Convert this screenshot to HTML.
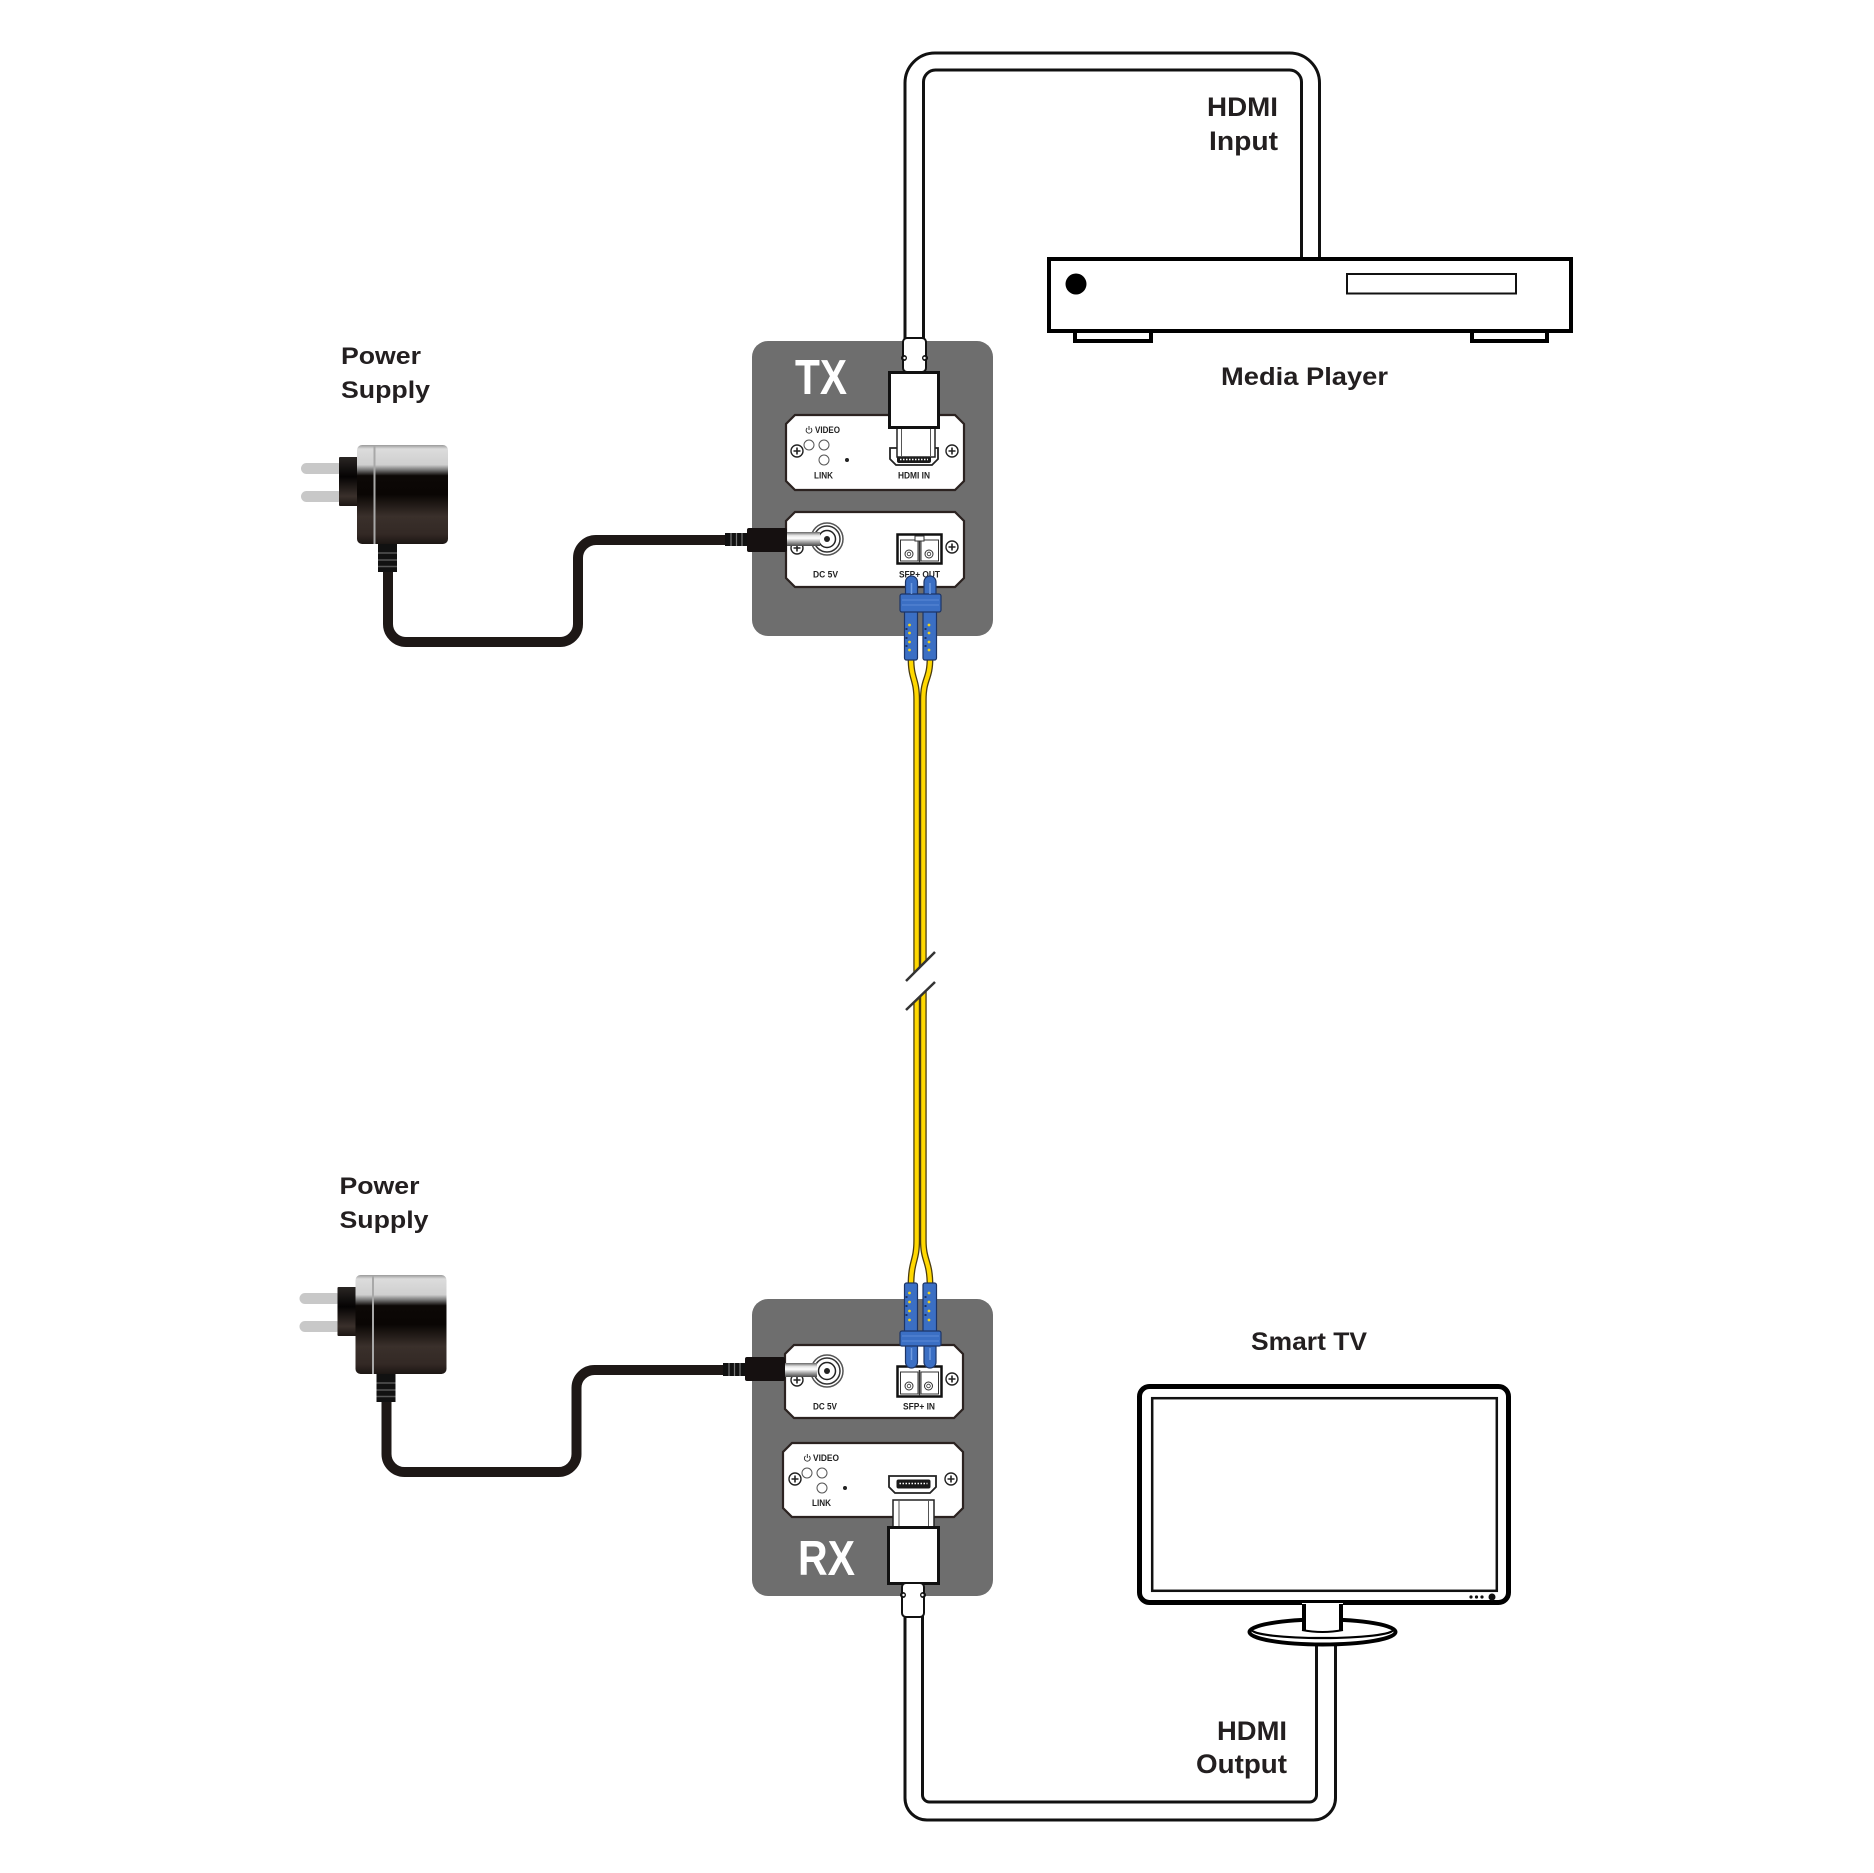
<!DOCTYPE html>
<html><head><meta charset="utf-8">
<style>html,body{margin:0;padding:0;background:#fff}svg{display:block}</style>
</head><body>
<svg width="1874" height="1873" viewBox="0 0 1874 1873" xmlns="http://www.w3.org/2000/svg" font-family="'Liberation Sans', Arial, sans-serif">
<defs>
 <linearGradient id="adapt" x1="0" y1="0" x2="0" y2="1">
  <stop offset="0" stop-color="#9a9a9a"/>
  <stop offset="0.04" stop-color="#dcdcdc"/>
  <stop offset="0.2" stop-color="#cfcfcf"/>
  <stop offset="0.25" stop-color="#7a7a7a"/>
  <stop offset="0.31" stop-color="#0c0806"/>
  <stop offset="0.5" stop-color="#0a0604"/>
  <stop offset="0.72" stop-color="#3a302b"/>
  <stop offset="0.9" stop-color="#332925"/>
  <stop offset="1" stop-color="#1c1613"/>
 </linearGradient>
 <linearGradient id="blk" x1="0" y1="0" x2="0" y2="1">
  <stop offset="0" stop-color="#2a2624"/>
  <stop offset="0.4" stop-color="#050303"/>
  <stop offset="0.8" stop-color="#3a302b"/>
  <stop offset="1" stop-color="#1c1613"/>
 </linearGradient>
 <linearGradient id="barrel" x1="0" y1="0" x2="0" y2="1">
  <stop offset="0" stop-color="#666"/>
  <stop offset="0.25" stop-color="#e6e6e6"/>
  <stop offset="0.45" stop-color="#ffffff"/>
  <stop offset="0.7" stop-color="#a8a8a8"/>
  <stop offset="1" stop-color="#474747"/>
 </linearGradient>
</defs>

<!-- ============ POWER SUPPLY 1 ============ -->
<g>
 <text x="341" y="364" font-size="24" font-weight="bold" fill="#231f20" textLength="80" lengthAdjust="spacingAndGlyphs">Power</text>
 <text x="341" y="398" font-size="24" font-weight="bold" fill="#231f20" textLength="89" lengthAdjust="spacingAndGlyphs">Supply</text>
 <rect x="301" y="463" width="42" height="11" rx="5.5" fill="#c8c8c8"/>
 <rect x="301" y="491" width="42" height="11" rx="5.5" fill="#c8c8c8"/>
 <rect x="339" y="457" width="20" height="49" rx="1" fill="url(#blk)"/>
 <rect x="357" y="445" width="91" height="99" rx="5" fill="url(#adapt)"/>
 <line x1="374.5" y1="446" x2="374.5" y2="544" stroke="#a8a8a8" stroke-width="2"/>
 <path d="M388 572 V624 A18 18 0 0 0 406 642 H560 A18 18 0 0 0 578 624 V558 A18 18 0 0 1 596 540 H727" fill="none" stroke="#1e1816" stroke-width="10"/>
 <rect x="378" y="544" width="19" height="28" fill="#111"/>
 <line x1="378" y1="553" x2="397" y2="553" stroke="#555" stroke-width="1.5"/>
 <line x1="378" y1="560" x2="397" y2="560" stroke="#555" stroke-width="1.5"/>
 <line x1="378" y1="566.5" x2="397" y2="566.5" stroke="#555" stroke-width="1.5"/>
</g>

<!-- ============ POWER SUPPLY 2 ============ -->
<g transform="translate(-1.5,830)">
 <text x="341" y="364" font-size="24" font-weight="bold" fill="#231f20" textLength="80" lengthAdjust="spacingAndGlyphs">Power</text>
 <text x="341" y="398" font-size="24" font-weight="bold" fill="#231f20" textLength="89" lengthAdjust="spacingAndGlyphs">Supply</text>
 <rect x="301" y="463" width="42" height="11" rx="5.5" fill="#c8c8c8"/>
 <rect x="301" y="491" width="42" height="11" rx="5.5" fill="#c8c8c8"/>
 <rect x="339" y="457" width="20" height="49" rx="1" fill="url(#blk)"/>
 <rect x="357" y="445" width="91" height="99" rx="5" fill="url(#adapt)"/>
 <line x1="374.5" y1="446" x2="374.5" y2="544" stroke="#a8a8a8" stroke-width="2"/>
 <path d="M388 572 V624 A18 18 0 0 0 406 642 H560 A18 18 0 0 0 578 624 V558 A18 18 0 0 1 596 540 H727" fill="none" stroke="#1e1816" stroke-width="10"/>
 <rect x="378" y="544" width="19" height="28" fill="#111"/>
 <line x1="378" y1="553" x2="397" y2="553" stroke="#555" stroke-width="1.5"/>
 <line x1="378" y1="560" x2="397" y2="560" stroke="#555" stroke-width="1.5"/>
 <line x1="378" y1="566.5" x2="397" y2="566.5" stroke="#555" stroke-width="1.5"/>
</g>

<!-- ============ TOP HDMI CABLE ============ -->
<path d="M905 340 V83 A30 30 0 0 1 935 53 H1289.5 A30 30 0 0 1 1319.5 83 V260" fill="none" stroke="#111" stroke-width="3"/>
<path d="M923.5 340 V82 A12 12 0 0 1 935.5 70 H1289.5 A12 12 0 0 1 1301.5 82 V260" fill="none" stroke="#111" stroke-width="3"/>
<text x="1207" y="116" font-size="26.5" font-weight="bold" fill="#231f20" textLength="71" lengthAdjust="spacingAndGlyphs">HDMI</text>
<text x="1209" y="150" font-size="26.5" font-weight="bold" fill="#231f20" textLength="69" lengthAdjust="spacingAndGlyphs">Input</text>

<!-- ============ MEDIA PLAYER ============ -->
<rect x="1075" y="329" width="76" height="12" fill="#fff" stroke="#000" stroke-width="4"/>
<rect x="1472" y="329" width="75" height="12" fill="#fff" stroke="#000" stroke-width="4"/>
<rect x="1049" y="259" width="522" height="72" fill="#fff" stroke="#000" stroke-width="4"/>
<circle cx="1076" cy="284" r="10.5" fill="#000"/>
<rect x="1347" y="274" width="169" height="19.5" fill="#fff" stroke="#111" stroke-width="2"/>
<text x="1221" y="385" font-size="25" font-weight="bold" fill="#231f20" textLength="167" lengthAdjust="spacingAndGlyphs">Media Player</text>

<!-- ============ TX BOX ============ -->
<rect x="752" y="341" width="241" height="295" rx="16" fill="#6e6e6e"/>
<text x="795" y="394" font-size="49" font-weight="bold" fill="#fff" textLength="52" lengthAdjust="spacingAndGlyphs">TX</text>

<!-- upper panel -->
<path d="M795 415 H955 L964 424 V481 L955 490 H795 L786 481 V424 Z" fill="#fff" stroke="#2b2220" stroke-width="2.2"/>
<path d="M807.2 428 A2.9 2.9 0 1 0 810.8 428 M809 426 V430" fill="none" stroke="#222" stroke-width="0.9"/>
<text x="815" y="433" font-size="9" font-weight="bold" fill="#222" textLength="25" lengthAdjust="spacingAndGlyphs">VIDEO</text>
<circle cx="809" cy="445" r="5" fill="#fff" stroke="#555" stroke-width="1"/>
<circle cx="824" cy="445" r="5" fill="#fff" stroke="#555" stroke-width="1"/>
<circle cx="824" cy="460" r="5" fill="#fff" stroke="#555" stroke-width="1"/>
<circle cx="847" cy="460" r="2" fill="#222"/>
<text x="814" y="478.3" font-size="9" font-weight="bold" fill="#222" textLength="19" lengthAdjust="spacingAndGlyphs">LINK</text>
<text x="898" y="478.3" font-size="9" font-weight="bold" fill="#222" textLength="32" lengthAdjust="spacingAndGlyphs">HDMI IN</text>
<g fill="#fff" stroke="#222" stroke-width="1.4">
 <circle cx="797" cy="451" r="6"/><circle cx="952" cy="451" r="6"/>
</g>
<path d="M793.5 451 H800.5 M797 447.5 V454.5 M948.5 451 H955.5 M952 447.5 V454.5" stroke="#222" stroke-width="1.6"/>

<!-- lower panel -->
<path d="M795 512 H955 L964 521 V578 L955 587 H795 L786 578 V521 Z" fill="#fff" stroke="#2b2220" stroke-width="2.2"/>
<g fill="#fff" stroke="#222" stroke-width="1.4">
 <circle cx="797" cy="548" r="6"/><circle cx="952" cy="547" r="6"/>
</g>
<path d="M793.5 548 H800.5 M797 544.5 V551.5 M948.5 547 H955.5 M952 543.5 V550.5" stroke="#222" stroke-width="1.6"/>
<text x="813" y="577.3" font-size="9" font-weight="bold" fill="#222" textLength="25" lengthAdjust="spacingAndGlyphs">DC 5V</text>
<text x="899" y="577.3" font-size="9" font-weight="bold" fill="#222" textLength="41" lengthAdjust="spacingAndGlyphs">SFP+ OUT</text>
<!-- DC jack -->
<circle cx="827" cy="539" r="16" fill="#fff" stroke="#555" stroke-width="1.5"/>
<circle cx="827" cy="539" r="13" fill="#fff" stroke="#333" stroke-width="1.5"/>
<circle cx="827" cy="539" r="8.5" fill="#fff" stroke="#222" stroke-width="1.5"/>
<circle cx="827" cy="539" r="3" fill="#222"/>
<!-- DC plug -->
<rect x="725" y="533" width="22" height="13" fill="#111"/>
<path d="M731 533 V546 M736.5 533 V546 M742 533 V546" stroke="#777" stroke-width="1.2"/>
<rect x="747" y="528" width="40" height="24" rx="2" fill="#151010"/>
<rect x="787" y="532" width="33" height="14" fill="url(#barrel)"/>
<!-- SFP port -->
<rect x="897.5" y="534.5" width="44" height="29" fill="#fff" stroke="#111" stroke-width="2.5"/>
<rect x="900.5" y="540" width="17.5" height="21" fill="#fff" stroke="#333" stroke-width="1"/>
<rect x="921" y="540" width="17.5" height="21" fill="#fff" stroke="#333" stroke-width="1"/>
<rect x="915" y="536" width="9" height="5" fill="#fff" stroke="#333" stroke-width="1"/>
<line x1="919.5" y1="541" x2="919.5" y2="563" stroke="#333" stroke-width="1.5"/>
<circle cx="909" cy="554" r="4" fill="#fff" stroke="#333" stroke-width="1"/>
<circle cx="909" cy="554" r="1.8" fill="#fff" stroke="#333" stroke-width="0.8"/>
<circle cx="929" cy="554" r="4" fill="#fff" stroke="#333" stroke-width="1"/>
<circle cx="929" cy="554" r="1.8" fill="#fff" stroke="#333" stroke-width="0.8"/>

<!-- TX HDMI port + plug -->
<path d="M890 448 H938 V459 L932 465 H896 L890 459 Z" fill="#fff" stroke="#222" stroke-width="1.8"/>
<rect x="897" y="455" width="34" height="8" rx="2" fill="#1a1a1a"/>
<line x1="900" y1="459.5" x2="928" y2="459.5" stroke="#fff" stroke-width="1.5" stroke-dasharray="1.5 1.5"/>
<rect x="897" y="428" width="38" height="29" fill="#fff" stroke="#222" stroke-width="1.5"/>
<path d="M901.5 428 V457 M930.5 428 V457" stroke="#555" stroke-width="1"/>
<rect x="889.5" y="372.5" width="49" height="55" fill="#fff" stroke="#111" stroke-width="3"/>
<rect x="903" y="338" width="23" height="34" rx="4" fill="#fff" stroke="#111" stroke-width="2"/>
<circle cx="904" cy="358" r="3" fill="#111"/><circle cx="925" cy="358" r="3" fill="#111"/>
<circle cx="904.5" cy="358" r="1.2" fill="#fff"/><circle cx="924.5" cy="358" r="1.2" fill="#fff"/>

<!-- ============ RX BOX ============ -->
<rect x="752" y="1299" width="241" height="297" rx="16" fill="#6e6e6e"/>
<text x="798" y="1575" font-size="49" font-weight="bold" fill="#fff" textLength="57" lengthAdjust="spacingAndGlyphs">RX</text>

<!-- DC panel -->
<path d="M794 1345 H954 L963 1354 V1409 L954 1418 H794 L785 1409 V1354 Z" fill="#fff" stroke="#2b2220" stroke-width="2.2"/>
<g fill="#fff" stroke="#222" stroke-width="1.4">
 <circle cx="797" cy="1380" r="6"/><circle cx="952" cy="1379" r="6"/>
</g>
<path d="M793.5 1380 H800.5 M797 1376.5 V1383.5 M948.5 1379 H955.5 M952 1375.5 V1382.5" stroke="#222" stroke-width="1.6"/>
<text x="813" y="1409.3" font-size="9" font-weight="bold" fill="#222" textLength="24" lengthAdjust="spacingAndGlyphs">DC 5V</text>
<text x="903" y="1409.3" font-size="9" font-weight="bold" fill="#222" textLength="32" lengthAdjust="spacingAndGlyphs">SFP+ IN</text>
<circle cx="827" cy="1371" r="16" fill="#fff" stroke="#555" stroke-width="1.5"/>
<circle cx="827" cy="1371" r="13" fill="#fff" stroke="#333" stroke-width="1.5"/>
<circle cx="827" cy="1371" r="8.5" fill="#fff" stroke="#222" stroke-width="1.5"/>
<circle cx="827" cy="1371" r="3" fill="#222"/>
<rect x="723" y="1363" width="22" height="13" fill="#111"/>
<path d="M729 1363 V1376 M734.5 1363 V1376 M740 1363 V1376" stroke="#777" stroke-width="1.2"/>
<rect x="745" y="1357" width="40" height="24" rx="2" fill="#151010"/>
<rect x="785" y="1363" width="32" height="14" fill="url(#barrel)"/>
<!-- RX SFP port -->
<rect x="897.5" y="1366.5" width="44" height="30" fill="#fff" stroke="#111" stroke-width="2.5"/>
<rect x="900.5" y="1372" width="17.5" height="22" fill="#fff" stroke="#333" stroke-width="1"/>
<rect x="921" y="1372" width="17.5" height="22" fill="#fff" stroke="#333" stroke-width="1"/>
<line x1="919.5" y1="1370" x2="919.5" y2="1396" stroke="#333" stroke-width="1.5"/>
<circle cx="909" cy="1386" r="4" fill="#fff" stroke="#333" stroke-width="1"/>
<circle cx="909" cy="1386" r="1.8" fill="#fff" stroke="#333" stroke-width="0.8"/>
<circle cx="928.5" cy="1386" r="4" fill="#fff" stroke="#333" stroke-width="1"/>
<circle cx="928.5" cy="1386" r="1.8" fill="#fff" stroke="#333" stroke-width="0.8"/>

<!-- HDMI panel -->
<path d="M792 1443 H954 L963 1452 V1508 L954 1517 H792 L783 1508 V1452 Z" fill="#fff" stroke="#2b2220" stroke-width="2.2"/>
<path d="M805.5 1456 A2.9 2.9 0 1 0 809.1 1456 M807.3 1454 V1458" fill="none" stroke="#222" stroke-width="0.9"/>
<text x="813" y="1461" font-size="9" font-weight="bold" fill="#222" textLength="26" lengthAdjust="spacingAndGlyphs">VIDEO</text>
<circle cx="807" cy="1473" r="5" fill="#fff" stroke="#555" stroke-width="1"/>
<circle cx="822" cy="1473" r="5" fill="#fff" stroke="#555" stroke-width="1"/>
<circle cx="822" cy="1488" r="5" fill="#fff" stroke="#555" stroke-width="1"/>
<circle cx="845" cy="1488" r="2" fill="#222"/>
<text x="812" y="1506" font-size="9" font-weight="bold" fill="#222" textLength="19" lengthAdjust="spacingAndGlyphs">LINK</text>
<g fill="#fff" stroke="#222" stroke-width="1.4">
 <circle cx="795" cy="1479" r="6"/><circle cx="951" cy="1479" r="6"/>
</g>
<path d="M791.5 1479 H798.5 M795 1475.5 V1482.5 M947.5 1479 H954.5 M951 1475.5 V1482.5" stroke="#222" stroke-width="1.6"/>
<path d="M889 1476 H936 V1487 L930 1493 H895 L889 1487 Z" fill="#fff" stroke="#222" stroke-width="1.8"/>
<rect x="896.5" y="1479.5" width="34" height="9" rx="2" fill="#1a1a1a"/>
<line x1="899.5" y1="1483.5" x2="927.5" y2="1483.5" stroke="#fff" stroke-width="1.5" stroke-dasharray="1.5 1.5"/>

<!-- bottom HDMI cable -->
<path d="M905 1615 V1798 A22 22 0 0 0 927 1820 H1313.5 A22 22 0 0 0 1335.5 1798 V1640" fill="none" stroke="#111" stroke-width="3"/>
<path d="M922.5 1615 V1795 A7 7 0 0 0 929.5 1802 H1309.5 A7 7 0 0 0 1316.5 1795 V1640" fill="none" stroke="#111" stroke-width="3"/>
<!-- RX HDMI plug -->
<rect x="893" y="1500" width="41" height="27" fill="#fff" stroke="#222" stroke-width="1.5"/>
<path d="M899 1500 V1527 M928.5 1500 V1527" stroke="#555" stroke-width="1"/>
<rect x="888.5" y="1527.5" width="50" height="56" fill="#fff" stroke="#111" stroke-width="3"/>
<rect x="902" y="1583" width="22" height="34" rx="4" fill="#fff" stroke="#111" stroke-width="2"/>
<circle cx="903" cy="1595" r="3" fill="#111"/><circle cx="923" cy="1595" r="3" fill="#111"/>
<circle cx="903.5" cy="1595" r="1.2" fill="#fff"/><circle cx="922.5" cy="1595" r="1.2" fill="#fff"/>
<text x="1217" y="1740" font-size="26.5" font-weight="bold" fill="#231f20" textLength="70" lengthAdjust="spacingAndGlyphs">HDMI</text>
<text x="1196" y="1773" font-size="26.5" font-weight="bold" fill="#231f20" textLength="91" lengthAdjust="spacingAndGlyphs">Output</text>

<!-- ============ FIBER ============ -->
<g fill="none" stroke-linecap="butt">
 <path d="M911 658 C911 680 916.7 678 916.7 700 V1240 C916.7 1262 911 1260 911 1286" stroke="#4a3c10" stroke-width="6.8"/>
 <path d="M911 658 C911 680 916.7 678 916.7 700 V1240 C916.7 1262 911 1260 911 1286" stroke="#ffd800" stroke-width="4.2"/>
 <path d="M930 658 C930 680 923.3 678 923.3 700 V1240 C923.3 1262 930 1260 930 1286" stroke="#4a3c10" stroke-width="6.8"/>
 <path d="M930 658 C930 680 923.3 678 923.3 700 V1240 C923.3 1262 930 1260 930 1286" stroke="#ffd800" stroke-width="4.2"/>
</g>
<!-- break -->
<polygon points="904,983 937,951 937,981 904,1013" fill="#fff"/>
<line x1="906" y1="981" x2="935" y2="952" stroke="#333" stroke-width="2.5"/>
<line x1="906" y1="1010" x2="935" y2="982" stroke="#333" stroke-width="2.5"/>

<!-- TX fiber connector -->
<g stroke="#1d3566" stroke-width="1.2" fill="#3b6fc4">
 <path d="M905.5 596 V582 A6 6 0 0 1 917.5 582 V596 Z"/>
 <path d="M924 596 V582 A6 6 0 0 1 936 582 V596 Z"/>
 <rect x="904.5" y="610" width="13" height="50" rx="2"/>
 <rect x="923" y="610" width="13.5" height="50" rx="2"/>
 <rect x="900" y="594" width="41" height="18" rx="2"/>
</g>
<path d="M902 600 H939 M902 605 H939" stroke="#5b8ad6" stroke-width="1"/>
<path d="M911.5 583 V594 M930 583 V594" stroke="#6f9be0" stroke-width="1.5"/>
<g fill="#f2d21a">
 <circle cx="909.5" cy="625" r="1.4"/><circle cx="909.5" cy="633" r="1.4"/><circle cx="909.5" cy="642" r="1.4"/><circle cx="909.5" cy="650" r="1.4"/>
 <circle cx="929" cy="625" r="1.4"/><circle cx="929" cy="633" r="1.4"/><circle cx="929" cy="642" r="1.4"/><circle cx="929" cy="650" r="1.4"/>
</g>
<g fill="#1d3566">
 <rect x="905.5" y="628" width="2" height="2"/><rect x="905.5" y="637" width="2" height="2"/><rect x="905.5" y="645" width="2" height="2"/>
 <rect x="924.5" y="628" width="2" height="2"/><rect x="924.5" y="637" width="2" height="2"/><rect x="924.5" y="645" width="2" height="2"/>
</g>

<!-- RX fiber connector -->
<g stroke="#1d3566" stroke-width="1.2" fill="#3b6fc4">
 <path d="M905.5 1344 V1362 A6 6 0 0 0 917.5 1362 V1344 Z"/>
 <path d="M924 1344 V1362 A6 6 0 0 0 936 1362 V1344 Z"/>
 <rect x="904.5" y="1283" width="13" height="50" rx="2"/>
 <rect x="923" y="1283" width="13.5" height="50" rx="2"/>
 <rect x="900" y="1331" width="41" height="15" rx="2"/>
</g>
<path d="M902 1336 H939 M902 1341 H939" stroke="#5b8ad6" stroke-width="1"/>
<path d="M911.5 1348 V1360 M930 1348 V1360" stroke="#6f9be0" stroke-width="1.5"/>
<g fill="#f2d21a">
 <circle cx="909.5" cy="1293" r="1.4"/><circle cx="909.5" cy="1302" r="1.4"/><circle cx="909.5" cy="1311" r="1.4"/><circle cx="909.5" cy="1320" r="1.4"/>
 <circle cx="929" cy="1293" r="1.4"/><circle cx="929" cy="1302" r="1.4"/><circle cx="929" cy="1311" r="1.4"/><circle cx="929" cy="1320" r="1.4"/>
</g>
<g fill="#1d3566">
 <rect x="905.5" y="1296" width="2" height="2"/><rect x="905.5" y="1305" width="2" height="2"/><rect x="905.5" y="1314" width="2" height="2"/>
 <rect x="924.5" y="1296" width="2" height="2"/><rect x="924.5" y="1305" width="2" height="2"/><rect x="924.5" y="1314" width="2" height="2"/>
</g>

<!-- ============ SMART TV ============ -->
<text x="1251" y="1350" font-size="25" font-weight="bold" fill="#231f20" textLength="116" lengthAdjust="spacingAndGlyphs">Smart TV</text>
<rect x="1139.5" y="1386.5" width="369" height="216" rx="10" fill="#fff" stroke="#000" stroke-width="5"/>
<rect x="1152.2" y="1398.2" width="344.6" height="192.6" fill="#fff" stroke="#111" stroke-width="2.5"/>
<g fill="#111">
 <circle cx="1471" cy="1597" r="1.6"/><circle cx="1476.5" cy="1597" r="1.6"/><circle cx="1482" cy="1597" r="1.6"/>
 <circle cx="1492" cy="1597" r="3.5"/>
</g>
<ellipse cx="1322.5" cy="1632" rx="73" ry="12.5" fill="#fff" stroke="#000" stroke-width="4"/>
<path d="M1252 1630 A70.5 8 0 0 0 1393 1630" fill="none" stroke="#000" stroke-width="2.2"/>
<rect x="1302" y="1603" width="41" height="27" fill="#fff"/>
<path d="M1304 1604 V1630 M1341 1604 V1630" stroke="#000" stroke-width="4"/>
<path d="M1302 1630 Q1322.5 1634 1343 1630" fill="none" stroke="#000" stroke-width="2"/>

</svg>
</body></html>
